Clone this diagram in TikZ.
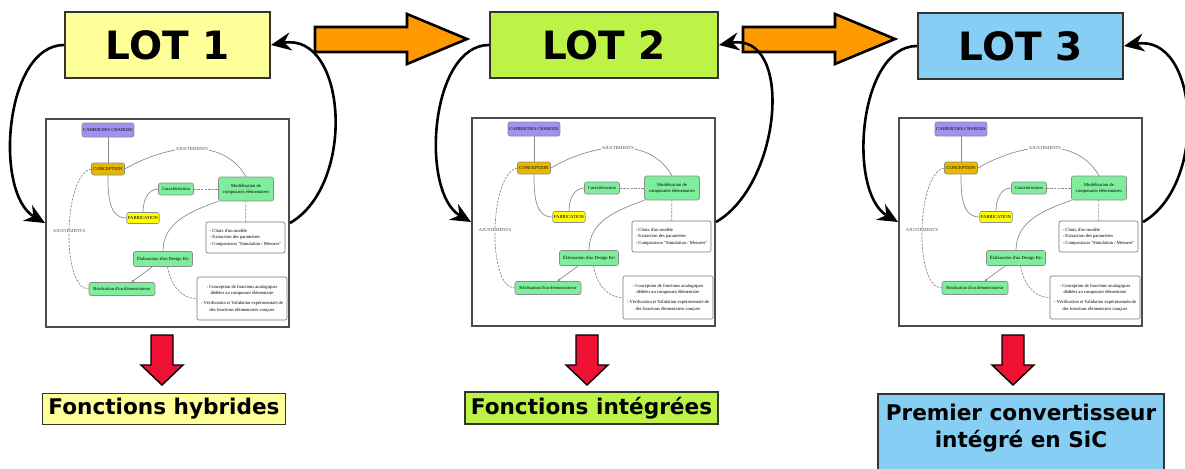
\documentclass[tikz,border=0pt]{standalone}
\usepackage{fontspec}
\setmainfont{DejaVu Sans}
\newfontfamily\minifont{Liberation Serif}
\usetikzlibrary{arrows.meta}
\definecolor{lotjaune}{HTML}{FFFF99}
\definecolor{lotvert}{HTML}{BDF347}
\definecolor{lotbleu}{HTML}{87CEF5}
\definecolor{fleche}{HTML}{FF9900}
\definecolor{rouge}{HTML}{EE1133}
\definecolor{cahier}{HTML}{A093F0}
\definecolor{concep}{HTML}{E8B800}
\definecolor{fabr}{HTML}{FFFF00}
\definecolor{vertpale}{HTML}{7FEE9C}

\begin{document}
\begin{tikzpicture}[x=0.5pt,y=-0.5pt,
  lotbox/.style={draw=black!80,line width=1pt,minimum height=33pt,font=\bfseries\fontsize{19.5}{24}\selectfont},
  resbox/.style={draw=black!80,line width=0.8pt,inner xsep=3pt,inner ysep=2.5pt,font=\bfseries\fontsize{10.8}{13.5}\selectfont},
  bigarc/.style={line width=1.3pt,-{Stealth[length=10pt,width=9pt]}},
  orangearrow/.style={fill=fleche,draw=black,line width=1.3pt},
  redarrow/.style={fill=rouge,draw=black,line width=0.7pt},
  miniframe/.style={draw=black!70,line width=1pt,minimum width=121.5pt,minimum height=104pt},
  mininode/.style={draw=black!45,rounded corners=1pt,line width=0.3pt,inner sep=0.6pt,font=\minifont\fontsize{2.3}{2.9}\selectfont,align=center},
  notebox/.style={draw=black!55,rounded corners=1pt,line width=0.3pt,inner sep=1.5pt,font=\minifont\fontsize{2.3}{3.3}\selectfont},
  minilink/.style={draw=black!45,line width=0.35pt},
  minidash/.style={minilink,dash pattern=on 1.2pt off 0.6pt},
  minilabel/.style={fill=white,inner sep=0.3pt,font=\minifont\fontsize{2.3}{2.9}\selectfont,text=black!70}]
\useasboundingbox (0,0) rectangle (1185,468);

% les trois lots
\node[lotbox,fill=lotjaune,minimum width=102.5pt] (lot1) at (167.5,45) {LOT 1};
\node[lotbox,fill=lotvert,minimum width=114pt] (lot2) at (604,45) {LOT 2};
\node[lotbox,fill=lotbleu,minimum width=102.5pt] (lot3) at (1020.5,46) {LOT 3};

% fleches oranges
\foreach \ax in {315,743}
  \draw[orangearrow] (\ax,27)--(\ax+92,27)--(\ax+92,14)--(\ax+152,39)--(\ax+92,64)--(\ax+92,52)--(\ax,52)--cycle;

% schema de la demarche (le meme pour chaque lot)
\foreach \lx/\ly/\n in {46/119/1,472/118/2,899/118/3}{
\begin{scope}[shift={(\lx,\ly)}]
\node[miniframe] (mini\n) at (121.5,104) {};
\node[mininode,fill=cahier,minimum width=25pt,minimum height=7pt] (cdc\n) at (62,11) {CAHIER DES CHARGES};
\node[mininode,fill=concep,minimum width=16.5pt,minimum height=6pt] (concep\n) at (62,50) {CONCEPTION};
\node[mininode,fill=fabr,minimum width=16pt,minimum height=5.5pt] (fab\n) at (97,99) {FABRICATION};
\node[mininode,fill=vertpale,minimum width=17.5pt,minimum height=6pt] (carac\n) at (130,70) {Caractérisation};
\node[mininode,fill=vertpale,minimum width=27.5pt,minimum height=12pt] (modl\n) at (200,70) {Modélisation de\\composants élémentaires};
\node[notebox,align=left,minimum width=39.5pt,minimum height=15.5pt] (choix\n) at (199.5,118.5)
  {- Choix d'un modèle\\- Extraction des paramètres\\- Comparaison "Simulation / Mesures"};
\node[mininode,fill=vertpale,minimum width=29.5pt,minimum height=7.5pt] (elab\n) at (117,140) {Élaboration d'un Design Kit};
\node[mininode,fill=vertpale,minimum width=33pt,minimum height=6.5pt] (real\n) at (76,170) {Réalisation d'un démonstrateur};
\node[notebox,align=center,minimum width=45pt,minimum height=21.5pt] (concbox\n) at (196,179.5)
  {- Conception de fonctions analogiques\\dédiées au composant élémentaire\\[1.5pt]- Vérification et Validation expérimentale de\\des fonctions élémentaires conçues};
\draw[minilink] (cdc\n)--(concep\n);
\draw[minilink] (concep\n.south) to[out=-90,in=180] (fab\n.west);
\draw[minilink] (fab\n.north) to[out=90,in=180] (carac\n.west);
\draw[minidash] (carac\n)--(modl\n);
\draw[minidash] (modl\n)--(choix\n);
\draw[minilink] (concep\n.east) to[out=30,in=120] node[minilabel]{AJUSTEMENTS} (modl\n.north);
\draw[minilink] (modl\n.south west) to[out=200,in=90] (elab\n.north);
\draw[minilink,-{Stealth[length=1.5pt,width=1.2pt]}] (elab\n)--(real\n);
\draw[minidash] (elab\n.-60) to[out=-80,in=180] (concbox\n.west);
\draw[minidash] (concep\n.west) to[out=190,in=180,looseness=0.6] node[minilabel]{AJUSTEMENTS} (real\n.west);
\end{scope}
}

% boucles entre lot et schema
\foreach \n in {1,2,3}{
\draw[bigarc] (lot\n.west) to[out=180,in=150,looseness=0.85] (mini\n.west);
\draw[bigarc] (mini\n.east) to[out=30,in=10,looseness=1.1] (lot\n.east);
}

% fleches rouges et resultats
\foreach \rx in {162,587,1013}
  \draw[redarrow] (\rx-11,335)--(\rx+11,335)--(\rx+11,365)--(\rx+21,365)--(\rx,385)--(\rx-21,365)--(\rx-11,365)--cycle;
\node[resbox,fill=lotjaune] (res1) at (164,409) {Fonctions hybrides};
\node[resbox,fill=lotvert] (res2) at (591.5,408) {Fonctions intégrées};
\node[resbox,fill=lotbleu,anchor=north,align=center,inner xsep=4pt,inner ysep=5pt,text depth=30pt] (res3) at (1021,393) {Premier convertisseur\\intégré en SiC};
\end{tikzpicture}
\end{document}
